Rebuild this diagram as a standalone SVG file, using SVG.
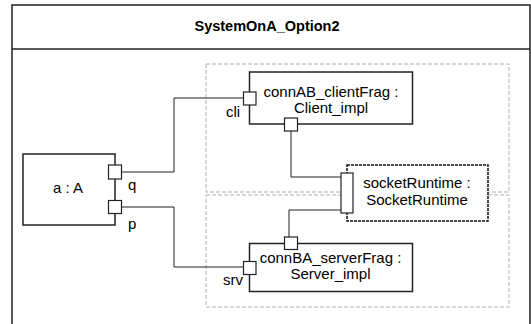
<svg xmlns="http://www.w3.org/2000/svg" width="531" height="324" viewBox="0 0 531 324">
<style>
text{font-family:"Liberation Sans",Arial,sans-serif;font-size:15px;fill:#000}
.title{font-weight:bold;font-size:14.5px}
.frame{fill:#fff;stroke:#222;stroke-width:1.5}
.box{fill:#fff;stroke:#222;stroke-width:1.5}
.port{fill:#fff;stroke:#222;stroke-width:1.2}
.region{fill:none;stroke:#b0b0b0;stroke-width:1;stroke-dasharray:4,2}
.sock{fill:#fff;stroke:#111;stroke-width:1.5;stroke-dasharray:3,1}
.conn{fill:none;stroke:#222;stroke-width:1}
</style>
<rect width="531" height="324" fill="#fff"/>
<g id="frame">
<rect class="frame" x="12" y="5" width="518" height="340"/>
<line x1="12" y1="49" x2="530" y2="49" stroke="#222" stroke-width="1.5"/>
<text class="title" x="267" y="31" text-anchor="middle">SystemOnA_Option2</text>
</g>
<g id="regions">
<rect class="region" x="206" y="64" width="303" height="128"/>
<rect class="region" x="206" y="195" width="303" height="112"/>
</g>
<g id="connectors">
<polyline class="conn" points="121,172 174,172 174,98 243,98"/>
<polyline class="conn" points="121,207 174,207 174,267 243,267"/>
<polyline class="conn" points="291,131 291,177 341,177"/>
<polyline class="conn" points="341,210 289,210 289,237"/>
</g>
<g id="node_a">
<rect class="box" x="23" y="154" width="92" height="71"/>
<text x="68" y="193" text-anchor="middle">a : A</text>
<rect class="port" x="108.5" y="165" width="13" height="14"/>
<rect class="port" x="108.5" y="200.5" width="13" height="13"/>
<text x="128" y="190">q</text>
<text x="128" y="229">p</text>
</g>
<g id="node_client">
<rect class="box" x="249.5" y="72" width="163" height="52"/>
<text x="331" y="97" text-anchor="middle">connAB_clientFrag :</text>
<text x="331" y="113" text-anchor="middle">Client_impl</text>
<rect class="port" x="243.5" y="92" width="12.5" height="13"/>
<text x="226" y="117">cli</text>
<rect class="port" x="284.5" y="118" width="13" height="13"/>
</g>
<g id="node_socket">
<rect class="sock" x="347" y="165" width="141" height="56"/>
<rect class="port" x="341" y="173" width="12" height="40"/>
<text x="417" y="188" text-anchor="middle">socketRuntime :</text>
<text x="417" y="205" text-anchor="middle">SocketRuntime</text>
</g>
<g id="node_server">
<rect class="box" x="249.5" y="243.5" width="163" height="48"/>
<text x="330.5" y="263" text-anchor="middle">connBA_serverFrag :</text>
<text x="330.5" y="279" text-anchor="middle">Server_impl</text>
<rect class="port" x="284.5" y="237" width="13" height="12.5"/>
<rect class="port" x="243.5" y="261.5" width="12.5" height="13"/>
<text x="223" y="285">srv</text>
</g>
</svg>
